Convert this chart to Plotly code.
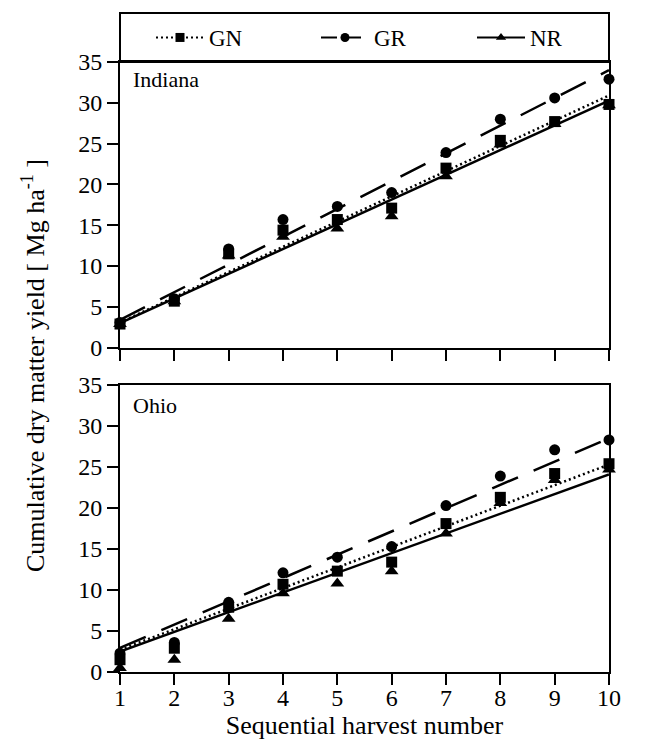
import plotly.graph_objects as go
import numpy as np

harvest = [1, 2, 3, 4, 5, 6, 7, 8, 9, 10]

# Indiana observed cumulative yields (Mg/ha)
ind_GN = [2.9, 5.7, 11.5, 14.4, 15.7, 17.1, 22.0, 25.4, 27.7, 29.8]
ind_GR = [3.1, 6.0, 12.1, 15.7, 17.3, 19.0, 23.9, 28.0, 30.6, 32.9]
ind_NR = [2.9, 5.7, 11.3, 13.6, 14.6, 16.1, 21.0, 24.9, 27.4, 29.7]

# Ohio observed cumulative yields (Mg/ha)
ohio_GN = [1.5, 2.9, 7.9, 10.7, 12.3, 13.4, 18.1, 21.3, 24.2, 25.4]
ohio_GR = [2.3, 3.6, 8.5, 12.1, 14.0, 15.3, 20.3, 23.9, 27.1, 28.3]
ohio_NR = [0.5, 1.5, 6.5, 9.6, 10.8, 12.3, 16.9, 20.6, 23.4, 24.7]

# Linear regression fits (intercept, slope)
ind_fit = {"GN": (0.0, 3.09), "GR": (0.0, 3.40), "NR": (-0.03, 3.03)}
ohio_fit = {"GN": (0.2, 2.51), "GR": (0.1, 2.84), "NR": (0.1, 2.40)}

series_names = ["GN", "GR", "NR"]
y_ticks = [0, 5, 10, 15, 20, 25, 30, 35]

FONT = "Liberation Serif, Times New Roman, Times, serif"
styles = {
    "GN": dict(symbol="square", size=11, dash="2px,3px", width=2.5),
    "GR": dict(symbol="circle", size=11, dash="28px,17px", width=2.5),
    "NR": dict(symbol="triangle-up", size=12, dash="solid", width=2.5),
}

fig = go.Figure()

panels = [
    ("Indiana", "x", "y", {"GN": ind_GN, "GR": ind_GR, "NR": ind_NR}, ind_fit),
    ("Ohio", "x2", "y2", {"GN": ohio_GN, "GR": ohio_GR, "NR": ohio_NR}, ohio_fit),
]

xs = np.array(harvest, dtype=float)
for name, xa, ya, obs, fit in panels:
    for s in series_names:
        a, b = fit[s]
        st = styles[s]
        fig.add_trace(go.Scatter(
            x=harvest, y=(a + b * xs).tolist(), mode="lines",
            line=dict(color="black", width=st["width"], dash=st["dash"]),
            xaxis=xa, yaxis=ya, showlegend=False, hoverinfo="skip"))
    for s in ["GR", "NR", "GN"]:
        st = styles[s]
        fig.add_trace(go.Scatter(
            x=harvest, y=obs[s], mode="markers",
            marker=dict(symbol=st["symbol"], size=st["size"], color="black"),
            xaxis=xa, yaxis=ya, showlegend=False, cliponaxis=False))

# Legend entries (one legend per entry so each can be positioned)
legend_ids = {"GN": "legend", "GR": "legend2", "NR": "legend3"}
legend_dash = {"GN": "2px,3px", "GR": "16px,8px", "NR": "solid"}
for s in series_names:
    st = styles[s]
    fig.add_trace(go.Scatter(
        x=[None], y=[None], mode="lines+markers", name=s,
        line=dict(color="black", width=2, dash=legend_dash[s]),
        marker=dict(symbol=st["symbol"], size=9, color="black"),
        xaxis="x", yaxis="y", showlegend=True, legend=legend_ids[s]))

H_PAPER = 659.0
ind_top = (672 - 62) / H_PAPER
ind_bot = (672 - 347.7) / H_PAPER
ohio_top = (672 - 385) / H_PAPER

axis_common = dict(
    showline=True, linecolor="black", linewidth=2, mirror=True,
    ticks="outside", ticklen=11, tickwidth=1.5, tickcolor="black",
    showgrid=False, zeroline=False, automargin=False,
    tickfont=dict(family=FONT, size=24, color="black"),
)

leg_y = (672 - 37.5) / H_PAPER
def leg(xpx):
    return dict(orientation="h", x=(xpx - 120) / 489.0, xanchor="left", y=leg_y,
                yanchor="middle", bgcolor="rgba(0,0,0,0)", borderwidth=0,
                font=dict(family=FONT, size=23, color="black"), itemsizing="trace",
                itemwidth=48)

fig.update_layout(
    width=646, height=749,
    margin=dict(l=112, r=45, t=5, b=85, autoexpand=False),
    paper_bgcolor="white", plot_bgcolor="white",
    font=dict(family=FONT, size=22, color="black"),
    xaxis=dict(axis_common, range=[1, 10], dtick=1, tick0=1, showticklabels=False,
               anchor="y", domain=[0, 1]),
    yaxis=dict(axis_common, range=[0, 35], tickvals=y_ticks, domain=[ind_bot, ind_top],
               anchor="x"),
    xaxis2=dict(axis_common, range=[1, 10], dtick=1, tick0=1, anchor="y2", domain=[0, 1],
                ticklabelstandoff=-8,
                title=dict(text="Sequential harvest number",
                           font=dict(family=FONT, size=26, color="black"), standoff=2)),
    yaxis2=dict(axis_common, range=[0, 35], tickvals=y_ticks, domain=[0, ohio_top],
                anchor="x2"),
    showlegend=True,
    legend=leg(151),
    legend2=leg(316),
    legend3=leg(472),
    shapes=[dict(type="rect", xref="paper", yref="paper", x0=0, x1=1, y0=ind_top, y1=1,
                 line=dict(color="black", width=2), fillcolor="rgba(0,0,0,0)")],
    annotations=[
        dict(text="Indiana", xref="x domain", yref="y domain", x=0.022, y=0.937,
             xanchor="left", yanchor="middle", showarrow=False,
             font=dict(family=FONT, size=22, color="black")),
        dict(text="Ohio", xref="x2 domain", yref="y2 domain", x=0.022, y=0.93,
             xanchor="left", yanchor="middle", showarrow=False,
             font=dict(family=FONT, size=22, color="black")),
        dict(text="Cumulative dry matter yield [ Mg ha<sup>-1</sup> ]", xref="paper",
             yref="paper", x=(33 - 120) / 489.0, y=(672 - 366) / H_PAPER,
             xanchor="center", yanchor="middle", textangle=-90, showarrow=False,
             font=dict(family=FONT, size=26, color="black")),
    ],
)

fig.write_html("out.html")
